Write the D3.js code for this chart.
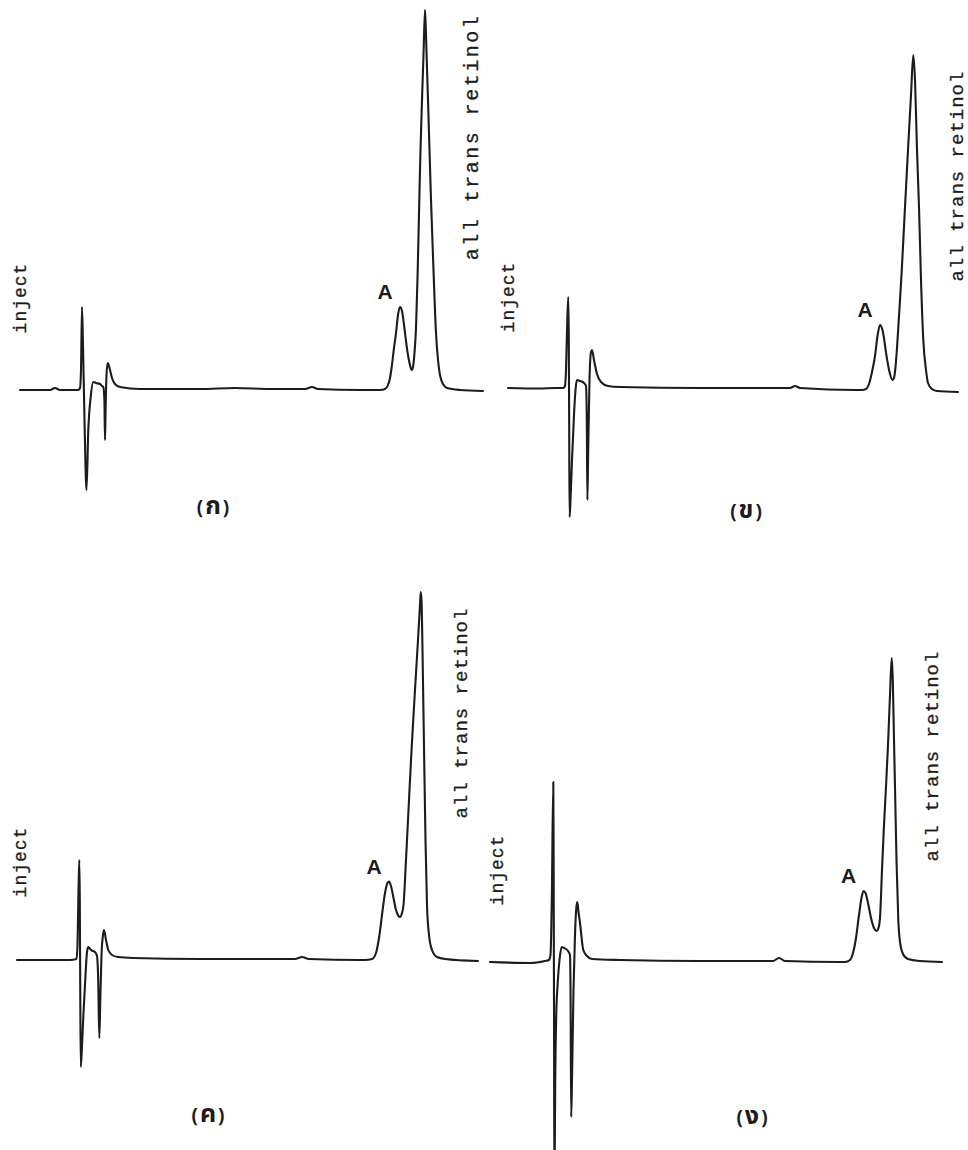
<!DOCTYPE html>
<html>
<head>
<meta charset="utf-8">
<script src="https://cdn.jsdelivr.net/npm/d3@7"></script>
<style>
  html, body { margin: 0; padding: 0; background: #ffffff; }
  svg { display: block; }
</style>
</head>
<body>
<svg id="chart" width="968" height="1150"></svg>
<script>
// HPLC traces: [retention time (min), detector response (relative units)]
const runKo = [[0,0],[1.5,0],[1.75,0.2],[2.0,0],[2.9,0],[3.0,0.2],[3.05,2.0],[3.1,8.3],[3.15,4.5],[3.225,-3.0],
  [3.325,-10.0],[3.415,-4.0],[3.535,-0.7],[3.665,0.8],[3.8,0.7],[4.0,0.6],[4.1,0.4],[4.165,0.3],[4.22,-1.0],[4.25,-5.0],
  [4.28,-2.0],[4.325,1.5],[4.385,2.7],[4.475,2.2],[4.6,1.2],[4.75,0.6],[5.0,0.3],[6.0,0.1],[9.0,0.1],[10.75,0.2],
  [12.5,0.1],[14.25,0.1],[14.6,0.3],[14.9,0.1],[17.0,0],[18.0,0],[18.25,0.1],[18.4,0.5],[18.5,1.2],[18.585,2.3],
  [18.7,4.2],[18.8,5.7],[18.9,7.5],[19.0,8.3],[19.1,7.9],[19.25,5.7],[19.375,3.8],[19.465,2.8],[19.585,2.0],[19.65,2.3],
  [19.72,3.6],[19.8,6.2],[19.88,11.5],[19.965,19.0],[20.025,24.0],[20.1,29.0],[20.175,33.5],[20.25,38.0],[20.3,35.5],[20.35,32.2],
  [20.4,29.0],[20.475,24.0],[20.55,19.0],[20.675,12.0],[20.8,5.7],[20.9,3.0],[21.0,1.5],[21.15,0.6],[21.35,0.2],[22.0,0],[23.15,-0.1]];

const runKho = [[0,0],[1.6,-0.05],[2.35,0],[2.75,0],[2.85,0.2],[2.9,1.8],[2.965,6.8],[3.015,9.1],[3.04,4.8],[3.06,-4.2],
  [3.08,-12.9],[3.125,-11.2],[3.2,-7.2],[3.3,-2.7],[3.375,-0.2],[3.45,0.8],[3.6,0.7],[3.8,0.5],[3.9,0.2],[3.94,-3.2],
  [3.97,-11.2],[4.01,-6.2],[4.075,0.8],[4.15,3.6],[4.2,3.8],[4.3,2.8],[4.45,1.4],[4.65,0.6],[5.0,0.2],[5.6,0.1],
  [9.6,0],[14.1,0],[14.35,0.2],[14.6,0],[17.35,-0.2],[17.7,-0.2],[17.9,-0.1],[18.05,0.4],[18.2,1.6],[18.35,3.2],
  [18.475,5.2],[18.6,6.3],[18.725,5.8],[18.935,3.1],[19.075,1.6],[19.235,0.8],[19.3,1.0],[19.38,2.2],[19.45,4.0],[19.52,6.2],
  [19.6,8.8],[19.675,11.3],[19.85,18.1],[20.0,23.8],[20.15,29.3],[20.265,33.3],[20.35,30.8],[20.45,23.8],[20.55,18.1],[20.65,10.8],
  [20.765,4.8],[20.9,1.8],[21.0,0.5],[21.2,-0.1],[21.45,-0.3],[22.5,-0.4]];

const runKho2 = [[0,0],[1.65,0],[2.65,0],[2.975,0.1],[3.025,1.5],[3.075,7.0],[3.115,10.0],[3.14,6.0],[3.165,-4.0],[3.19,-10.7],
  [3.24,-9.0],[3.315,-5.7],[3.425,-1.5],[3.5,0.8],[3.565,1.3],[3.7,1.0],[3.9,0.8],[4.0,0.4],[4.06,-2.0],[4.115,-7.8],
  [4.165,-4.0],[4.225,0.5],[4.3,2.5],[4.35,3.0],[4.45,2.0],[4.565,1.0],[4.75,0.5],[5.05,0.3],[5.8,0.2],[9.15,0.1],
  [13.9,0.1],[14.25,0.3],[14.6,0.1],[17.15,0],[17.4,0],[17.75,0.1],[17.95,0.7],[18.1,2.2],[18.25,4.5],[18.4,6.7],
  [18.525,7.7],[18.6,7.85],[18.7,7.4],[18.825,6.2],[18.95,5.0],[19.075,4.4],[19.15,4.3],[19.25,4.7],[19.325,5.5],[19.45,10.0],
  [19.6,16.0],[19.735,21.3],[19.9,27.0],[20.05,32.0],[20.15,35.5],[20.185,36.8],[20.225,36.0],[20.275,31.0],[20.35,21.3],[20.425,12.0],
  [20.5,5.5],[20.6,2.5],[20.75,1.0],[21.0,0.3],[21.4,0.1],[23.05,-0.1]];

const runNgo = [[0,0],[2.0,-0.1],[2.75,0.1],[2.95,0.2],[3.025,0.7],[3.09,6.2],[3.165,18.0],[3.18,11.2],[3.2,-3.8],[3.22,-23.8],
  [3.26,-12.1],[3.31,-5.5],[3.385,-2.1],[3.475,0.2],[3.585,1.5],[3.7,1.4],[3.9,1.1],[4.0,0.7],[4.03,-3.8],[4.06,-15.5],
  [4.1,-11.8],[4.175,-2.8],[4.25,2.7],[4.315,5.4],[4.365,6.0],[4.425,5.0],[4.5,3.9],[4.665,1.2],[4.85,0.6],[5.1,0.3],
  [6.5,0.2],[10.5,0.1],[14.15,0.1],[14.45,0.4],[14.75,0.1],[17.5,0],[17.75,0],[18.0,0.2],[18.15,0.9],[18.3,2.4],
  [18.45,4.7],[18.575,6.4],[18.675,7.1],[18.775,6.9],[18.9,5.9],[19.05,4.4],[19.2,3.4],[19.325,3.1],[19.425,3.4],[19.5,4.4],
  [19.6,9.2],[19.7,13.7],[19.8,17.5],[19.9,21.7],[20.0,26.7],[20.085,30.4],[20.14,28.2],[20.2,22.2],[20.25,17.5],[20.325,10.2],
  [20.415,4.2],[20.5,2.0],[20.65,0.8],[20.9,0.3],[21.5,0.1],[22.6,0]];

const runs = [runKo, runKho, runKho2, runNgo];
const panelLabels = ["(ก)", "(ข)", "(ค)", "(ง)"];
const peakATimes = [19.0, 18.6, 18.6, 18.675];
const peakLabel = "A";
const injectLabel = "inject";
const mainPeakLabel = "all trans retinol";

// Placement of each chromatogram on the page
const layout = [
  { x0: 20,  base: 390, injX: 26,  injY: 298, retX: 478,   retY: 137, retSize: 20, retSpace: 2.5, labX: 213, labY: 514 },
  { x0: 508, base: 388, injX: 514, injY: 297, retX: 963,   retY: 176, retSize: 19, retSpace: 1.0, labX: 746, labY: 518 },
  { x0: 17,  base: 960, injX: 26,  injY: 862, retX: 466.5, retY: 713, retSize: 19, retSpace: 1.0, labX: 208, labY: 1122 },
  { x0: 490, base: 962, injX: 503, injY: 870, retX: 938,   retY: 756, retSize: 19, retSpace: 1.0, labX: 752, labY: 1124 }
];
const timeSpan = [0, 23];      // minutes across 460 px
const respSpan = [0, 40];      // response units across 400 px

const svg = d3.select("#chart");
svg.append("rect").attr("width", 968).attr("height", 1150).attr("fill", "#ffffff");

const ink = "#1c1c1c";
const monoFont = "'Liberation Mono', 'DejaVu Sans Mono', monospace";

runs.forEach((run, i) => {
  const L = layout[i];
  const x = d3.scaleLinear().domain(timeSpan).range([L.x0, L.x0 + 460]);
  const y = d3.scaleLinear().domain(respSpan).range([L.base, L.base - 400]);
  const g = svg.append("g").attr("class", "run");

  const line = d3.line()
    .x(d => x(d[0]))
    .y(d => y(d[1]))
    .curve(d3.curveMonotoneX);

  g.append("path")
    .datum(run)
    .attr("d", line)
    .attr("fill", "none")
    .attr("stroke", ink)
    .attr("stroke-width", 2.1)
    .attr("stroke-linejoin", "round")
    .attr("stroke-linecap", "round");

  // Peak A label, set just above-left of its apex
  const near = run.filter(d => Math.abs(d[0] - peakATimes[i]) < 0.2);
  const apex = near.reduce((a, b) => (b[1] > a[1] ? b : a));
  g.append("text")
    .attr("x", x(apex[0]) - 15)
    .attr("y", y(apex[1]) - 8)
    .attr("text-anchor", "middle")
    .attr("font-family", "'Liberation Sans', Arial, sans-serif")
    .attr("font-weight", "bold")
    .attr("font-size", 21)
    .attr("fill", ink)
    .text(peakLabel);

  // Vertical annotations
  g.append("text")
    .attr("transform", `translate(${L.injX},${L.injY}) rotate(-90)`)
    .attr("text-anchor", "middle")
    .attr("font-family", monoFont)
    .attr("font-size", 18)
    .attr("letter-spacing", 1)
    .attr("fill", ink)
    .attr("stroke", ink)
    .attr("stroke-width", 0.3)
    .text(injectLabel);

  g.append("text")
    .attr("transform", `translate(${L.retX},${L.retY}) rotate(-90)`)
    .attr("text-anchor", "middle")
    .attr("font-family", monoFont)
    .attr("font-size", L.retSize)
    .attr("letter-spacing", L.retSpace)
    .attr("fill", ink)
    .attr("stroke", ink)
    .attr("stroke-width", 0.3)
    .text(mainPeakLabel);

  // Panel caption: parentheses around an enlarged Thai letter
  const cap = panelLabels[i];
  const t = g.append("text")
    .attr("x", L.labX)
    .attr("y", L.labY)
    .attr("text-anchor", "middle")
    .attr("font-family", "'Noto Sans Thai', 'Noto Sans', 'DejaVu Sans', sans-serif")
    .attr("font-weight", "bold")
    .attr("font-size", 19)
    .attr("fill", ink);
  t.append("tspan").text(cap.slice(0, 1));
  t.append("tspan").attr("font-size", 25).attr("dx", 2).text(cap.slice(1, -1));
  t.append("tspan").attr("dx", 2).text(cap.slice(-1));
});
</script>
</body>
</html>
